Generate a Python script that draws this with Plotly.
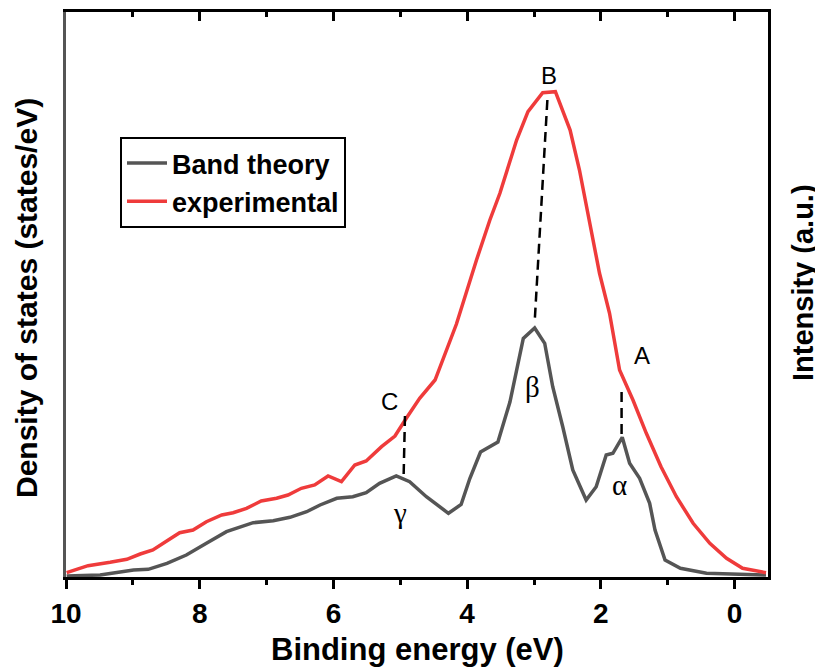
import plotly.graph_objects as go

# ---------------- data ----------------
# Experimental spectrum (red), binding energy in eV, intensity in a.u.
exp_energy = [9.99, 9.67, 9.34, 9.09, 8.89, 8.70, 8.47, 8.30, 8.10, 7.90, 7.67, 7.50,
              7.30, 7.08, 6.85, 6.68, 6.48, 6.28, 6.08, 5.88, 5.68, 5.51, 5.28, 5.08,
              4.91, 4.71, 4.48, 4.16, 3.86, 3.66, 3.51, 3.26, 3.09, 2.87, 2.68, 2.46,
              2.32, 2.17, 2.02, 1.87, 1.72, 1.52, 1.32, 1.10, 0.87, 0.62, 0.37, 0.12,
              -0.12, -0.47]
exp_intensity = [4.3, 11.3, 14.7, 17.7, 23.0, 27.0, 37.0, 44.3, 47.0, 55.3, 62.0, 64.3,
                 68.7, 76.0, 78.7, 82.0, 88.7, 92.0, 101.0, 95.3, 112.0, 116.0, 130.3, 141.0,
                 158.7, 178.7, 197.0, 253.0, 317.0, 357.0, 383.7, 437.0, 465.3, 484.3, 485.3, 447.0,
                 407.0, 357.0, 303.7, 263.7, 207.0, 177.0, 143.7, 110.3, 80.3, 53.7, 33.7, 18.7,
                 8.7, 4.3]

# Band theory DOS (grey)
dos_energy = [9.99, 9.49, 8.99, 8.77, 8.49, 8.20, 7.90, 7.60, 7.20, 6.90, 6.65, 6.40,
              6.20, 5.95, 5.71, 5.51, 5.31, 5.06, 4.86, 4.71, 4.61, 4.28, 4.09, 3.96,
              3.80, 3.54, 3.36, 3.16, 2.99, 2.84, 2.72, 2.57, 2.42, 2.22, 2.07, 1.92,
              1.82, 1.68, 1.57, 1.42, 1.27, 1.19, 1.04, 0.81, 0.42, -0.47]
dos_value = [1.0, 2.0, 7.0, 7.7, 13.7, 22.0, 33.7, 45.3, 54.3, 56.3, 59.7, 65.3,
             72.0, 78.7, 80.3, 84.3, 93.7, 101.0, 95.3, 86.0, 80.3, 63.7, 72.5, 98.5,
             125.0, 135.0, 175.0, 238.5, 249.0, 233.7, 190.3, 150.3, 107.0, 77.0, 90.3, 122.0,
             123.7, 139.7, 113.7, 98.7, 73.7, 47.0, 17.0, 8.7, 3.7, 2.0]

# Peak correlation guides (dashed): energies and heights of both ends
guide_x0 = [2.80, 4.93, 1.69]
guide_y0 = [477.0, 161.0, 185.0]
guide_x1 = [2.99, 4.95, 1.69]
guide_y1 = [255.0, 101.0, 142.0]

# Peak labels
label_text = ["B", "C", "A", "β", "γ", "α"]
label_x = [2.78, 5.16, 1.39, 3.02, 5.01, 1.72]
label_y = [502.0, 176.0, 222.0, 190.0, 64.0, 92.0]

x_ticks = [10, 8, 6, 4, 2, 0]

# ---------------- figure ----------------
RED = "#EF3B3B"
GREY = "#555555"
SANS = "Liberation Sans, Arial, sans-serif"
SERIF = "Liberation Serif, Times New Roman, serif"

# the page body adds an 8 px offset; the figure is sized to fill the rest of the window
OFF = 8
W, H = 823 - OFF, 668 - OFF
L, T = 66 - OFF, 12 - OFF
R, B = W - (768 - OFF), H - (577 - OFF)
PW, PH = W - L - R, H - T - B


def px_x(sx):
    return (sx - OFF - L) / PW


def px_y(sy):
    return (H - B - (sy - OFF)) / PH


fig = go.Figure()
fig.add_trace(go.Scatter(x=dos_energy, y=dos_value, mode="lines", name="<b>Band theory</b>",
                         line=dict(color=GREY, width=3.5)))
fig.add_trace(go.Scatter(x=exp_energy, y=exp_intensity, mode="lines", name="<b>experimental</b>",
                         line=dict(color=RED, width=3.5)))

for xa, ya, xb, yb in zip(guide_x0, guide_y0, guide_x1, guide_y1):
    fig.add_shape(type="line", x0=xa, y0=ya, x1=xb, y1=yb, xref="x", yref="y",
                  line=dict(color="black", width=2.5, dash="10px,6px"))

for t, xx, yy in zip(label_text, label_x, label_y):
    greek = t in ("α", "β", "γ")
    fig.add_annotation(x=xx, y=yy, text=t, showarrow=False, xref="x", yref="y",
                       font=dict(family=SERIF if greek else SANS, size=29 if greek else 24,
                                 color="black"))

# axis titles as annotations
fig.add_annotation(text="<b>Binding energy (eV)</b>", xref="paper", yref="paper",
                   x=px_x(417), y=px_y(649), showarrow=False,
                   xanchor="center", yanchor="middle",
                   font=dict(family=SANS, size=31, color="black"))
fig.add_annotation(text="<b>Density of states (states/eV)</b>", xref="paper", yref="paper",
                   x=px_x(26), y=px_y(298), showarrow=False, textangle=-90,
                   xanchor="center", yanchor="middle",
                   font=dict(family=SANS, size=30, color="black"))
fig.add_annotation(text="<b>Intensity (a.u.)</b>", xref="paper", yref="paper",
                   x=px_x(803), y=px_y(282), showarrow=False, textangle=-90,
                   xanchor="center", yanchor="middle",
                   font=dict(family=SANS, size=29, color="black"))

fig.update_layout(
    width=W, height=H,
    margin=dict(l=L, r=R, t=T, b=B, autoexpand=False),
    plot_bgcolor="white", paper_bgcolor="white",
    showlegend=True,
    legend=dict(x=px_x(120), y=px_y(137), xanchor="left", yanchor="top",
                bordercolor="black", borderwidth=2, bgcolor="white",
                font=dict(family=SANS, size=27, color="black"),
                tracegroupgap=0, itemwidth=40),
    xaxis=dict(range=[10, -0.5], tickvals=x_ticks, ticktext=["<b>%d</b>" % v for v in x_ticks],
               ticks="outside", ticklen=9, tickwidth=2.5, tickcolor="black",
               minor=dict(dtick=1, ticks="outside", ticklen=5, tickwidth=2.5, tickcolor="black"),
               showline=True, linecolor="black", linewidth=3, mirror=False,
               showgrid=False, zeroline=False, automargin=False,
               tickfont=dict(family=SANS, size=28, color="black")),
    xaxis2=dict(range=[10, -0.5], overlaying="x", side="top", tickvals=x_ticks,
                showticklabels=False, ticks="inside", ticklen=9, tickwidth=2.5, tickcolor="black",
                minor=dict(dtick=1, ticks="inside", ticklen=5, tickwidth=2.5, tickcolor="black"),
                showline=True, linecolor="black", linewidth=3, showgrid=False, zeroline=False,
                automargin=False),
    yaxis=dict(range=[0, 565], showticklabels=False, ticks="", showline=True,
               linecolor=GREY, linewidth=3, showgrid=False, zeroline=False, automargin=False),
    yaxis2=dict(range=[0, 565], overlaying="y", side="right", showticklabels=False, ticks="",
                showline=True, linecolor="black", linewidth=3, showgrid=False, zeroline=False,
                automargin=False),
)
# invisible trace to activate the secondary axes
fig.add_trace(go.Scatter(x=[5], y=[0], xaxis="x2", yaxis="y2", mode="markers",
                         marker=dict(opacity=0), showlegend=False, hoverinfo="skip"))

fig.write_html("out.html")
